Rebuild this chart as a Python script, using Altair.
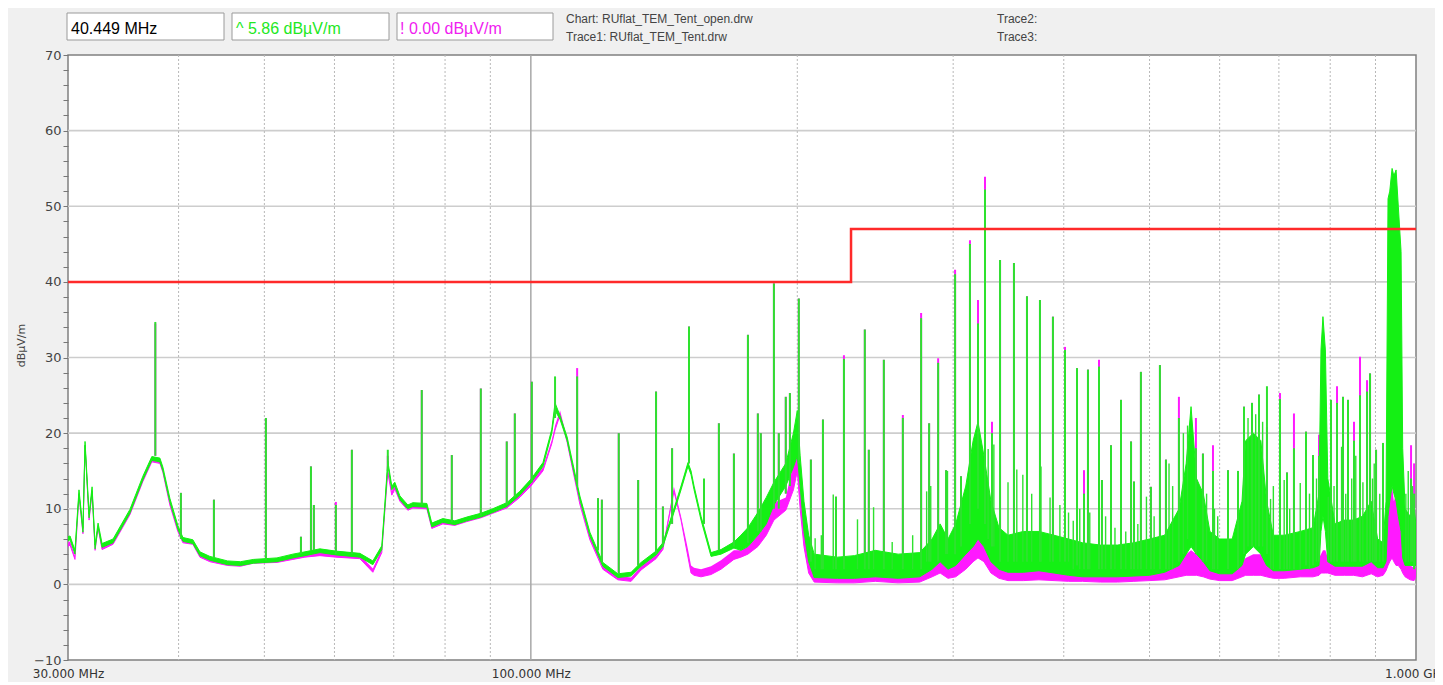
import altair as alt
import pandas as pd

# ---------------- trace envelopes (MHz, dBuV/m) ----------------
FREQ = [30.0, 30.16, 30.55, 30.87, 31.19, 31.36, 31.69, 31.94, 32.19, 32.44, 32.78, 33.73,
        35.24, 36.45, 37.31, 38.10, 38.40, 39.10, 39.92, 40.45, 41.51, 42.28, 43.39, 45.43,
        46.99, 48.61, 51.66, 53.85, 55.56, 57.77, 60.22, 64.10, 66.30, 67.86, 68.39, 68.93,
        69.65, 70.2, 71.13, 72.62, 73.57, 76.30, 77.29, 79.53, 82.06, 84.65, 87.80, 90.57,
        93.93, 97.16, 100.0, 103.2, 105.6, 106.5, 107.9, 109.9, 113.6, 116.6, 120.6, 125.4,
        129.8, 133.2, 138.5, 141.0, 145.1, 147.8, 150.5, 151.7, 152.9, 155.7, 159.8, 164.0,
        169.6, 172.7, 175.9, 180.5, 184.5, 188.2, 194.1, 198.0, 200.0, 201.5, 203.5, 206.0,
        209.0, 222.0, 232.0, 245.0, 260.0, 275.0, 284.0, 290.0, 296.0, 302.0, 310.0, 316.0,
        320.0, 325.0, 331.0, 338.0, 346.0, 360.0, 375.0, 390.0, 405.0, 420.0, 440.0, 460.0,
        480.0, 500.0, 520.0, 540.0, 550.0, 557.0, 565.0, 575.0, 585.0, 600.0, 620.0, 636.0,
        642.0, 655.0, 668.0, 678.0, 690.0, 710.0, 740.0, 765.0, 777.0, 781.0, 785.0, 790.0,
        795.0, 810.0, 830.0, 850.0, 870.0, 890.0, 905.0, 918.0, 925.0, 929.8, 934.0, 939.7,
        944.0, 949.5, 955.0, 961.9, 966.0, 972.0, 985.0, 995.0, 1000.0]
G_LO = [5.8, 5.9, 4.0, 12.0, 6.9, 18.4, 8.8, 12.4, 4.7, 7.6, 4.9, 5.5,
        9.4, 13.8, 16.4, 16.2, 15.0, 10.9, 7.3, 5.7, 5.4, 3.8, 3.2, 2.6,
        2.5, 2.8, 3.0, 3.5, 3.8, 4.2, 3.9, 3.6, 2.6, 4.6, 10.0, 15.8,
        12.5, 13.0, 11.2, 10.0, 10.3, 10.2, 7.6, 8.2, 7.9, 8.4, 8.9, 9.5,
        10.3, 11.8, 13.4, 15.6, 20.0, 23.0, 21.8, 19.0, 11.2, 6.4, 2.4, 0.9,
        1.1, 2.4, 3.9, 5.0, 9.5, 12.5, 15.6, 14.5, 12.5, 8.5, 3.7, 4.0,
        4.8, 4.5, 5.0, 6.5, 8.0, 10.5, 13.0, 15.5, 17.0, 13.0, 7.0, 3.0,
        0.9, 0.8, 0.8, 1.0, 0.8, 1.0, 2.0, 3.0, 2.0, 2.5, 4.0, 5.0,
        6.0, 5.0, 3.0, 2.0, 1.6, 1.6, 1.8, 1.5, 1.2, 1.0, 1.0, 1.0,
        1.1, 1.2, 1.6, 2.5, 4.0, 5.0, 4.0, 3.0, 1.8, 1.4, 1.4, 2.5,
        4.0, 5.0, 4.0, 2.5, 1.8, 1.8, 2.0, 2.2, 2.5, 7.0, 9.0, 7.0,
        3.0, 2.4, 2.4, 2.4, 2.4, 3.0, 2.2, 2.2, 3.0, 9.0, 11.0, 13.0,
        12.0, 11.0, 9.0, 7.0, 3.5, 2.5, 2.5, 2.5, 2.5]
G_HI = [6.3, 6.4, 4.5, 12.5, 7.4, 18.9, 9.3, 12.9, 5.2, 8.1, 5.4, 6.0,
        9.9, 14.3, 16.9, 16.7, 15.5, 11.4, 7.8, 6.2, 5.9, 4.3, 3.7, 3.1,
        3.0, 3.3, 3.5, 4.0, 4.3, 4.7, 4.4, 4.1, 3.1, 5.1, 10.5, 16.3,
        13.0, 13.5, 11.7, 10.5, 10.8, 10.7, 8.1, 8.7, 8.4, 8.9, 9.4, 10.0,
        10.8, 12.3, 13.9, 16.1, 20.5, 24.0, 22.3, 19.5, 11.7, 6.9, 2.9, 1.4,
        1.6, 2.9, 4.4, 5.5, 10.0, 13.0, 16.1, 15.0, 13.0, 9.0, 4.2, 4.6,
        5.6, 6.5, 7.5, 9.5, 11.5, 13.5, 16.0, 20.0, 23.0, 17.0, 11.0, 6.5,
        4.0, 3.6, 3.8, 4.5, 4.0, 4.2, 6.0, 8.0, 6.0, 8.0, 13.0, 19.0,
        21.5, 17.0, 11.0, 7.5, 6.5, 7.0, 7.0, 6.5, 6.0, 5.5, 5.2, 5.2,
        5.5, 6.0, 6.5, 10.0, 16.0, 23.5, 14.0, 12.0, 7.0, 6.0, 6.0, 11.0,
        19.0, 20.0, 19.0, 11.0, 6.5, 6.5, 7.0, 7.5, 12.0, 31.0, 35.4, 31.0,
        14.0, 8.0, 8.5, 8.5, 9.0, 11.0, 6.0, 5.5, 11.0, 51.0, 52.0, 55.0,
        54.0, 54.8, 50.0, 44.0, 18.0, 10.0, 9.0, 10.0, 8.0]
M_LO = [5.0, 5.2, 3.3, 11.8, 6.7, 18.4, 8.5, 12.2, 4.5, 7.5, 4.6, 5.3,
        9.2, 13.6, 16.2, 16.0, 14.8, 10.5, 7.0, 5.5, 5.3, 3.6, 3.0, 2.5,
        2.4, 2.8, 2.9, 3.3, 3.6, 3.8, 3.6, 3.4, 1.6, 4.2, 9.6, 14.8,
        11.8, 12.6, 11.0, 9.8, 10.1, 10.0, 7.4, 8.0, 7.8, 8.3, 8.8, 9.4,
        10.1, 11.5, 13.0, 15.0, 18.6, 20.4, 22.4, 18.8, 10.6, 5.9, 2.0, 0.6,
        0.4, 1.9, 3.4, 4.6, 12.3, 8.5, 3.6, 1.5, 1.2, 1.0, 1.3, 2.0,
        3.3, 3.6, 4.0, 5.0, 6.5, 8.5, 9.8, 12.5, 15.0, 10.0, 5.0, 1.5,
        0.3, 0.2, 0.2, 0.4, 0.2, 0.3, 1.0, 1.5, 0.8, 1.0, 2.0, 3.0,
        3.5, 3.0, 1.5, 0.8, 0.5, 0.5, 0.6, 0.5, 0.4, 0.4, 0.3, 0.3,
        0.4, 0.5, 0.6, 1.0, 1.2, 1.2, 1.2, 1.0, 0.7, 0.5, 0.5, 1.0,
        1.2, 1.2, 1.2, 1.0, 0.8, 0.8, 1.0, 1.0, 1.2, 1.5, 1.5, 1.5,
        1.5, 1.2, 1.2, 1.2, 1.0, 1.4, 1.0, 1.2, 1.8, 2.5, 3.0, 3.5,
        3.0, 2.5, 2.5, 2.0, 1.5, 1.0, 0.6, 0.5, 1.0]
M_HI = [5.5, 5.7, 3.8, 12.3, 7.2, 18.9, 9.0, 12.7, 5.0, 8.0, 5.1, 5.8,
        9.7, 14.1, 16.7, 16.5, 15.3, 11.0, 7.5, 6.0, 5.8, 4.1, 3.5, 3.0,
        2.9, 3.3, 3.4, 3.8, 4.1, 4.3, 4.1, 3.9, 2.1, 4.7, 10.1, 15.3,
        12.3, 13.1, 11.5, 10.3, 10.6, 10.5, 7.9, 8.5, 8.3, 8.8, 9.3, 9.9,
        10.6, 12.0, 13.5, 15.5, 19.1, 21.0, 23.0, 19.3, 11.1, 6.4, 2.5, 1.1,
        0.9, 2.4, 3.9, 5.1, 12.9, 9.0, 4.6, 2.5, 2.2, 2.0, 2.4, 3.2,
        4.5, 4.5, 5.0, 6.5, 8.5, 10.8, 11.5, 16.0, 19.0, 14.0, 8.0, 4.0,
        1.5, 1.2, 1.2, 2.0, 1.2, 1.4, 3.0, 4.5, 2.5, 3.0, 5.0, 6.5,
        7.0, 6.0, 4.0, 2.5, 2.0, 2.2, 2.5, 2.0, 1.6, 1.5, 1.4, 1.4,
        1.6, 1.8, 2.5, 3.5, 4.0, 4.5, 4.0, 3.0, 2.2, 1.8, 1.8, 3.0,
        3.5, 4.0, 4.0, 3.0, 2.2, 2.2, 2.4, 2.6, 3.5, 4.0, 4.5, 4.5,
        3.5, 3.0, 3.0, 3.0, 3.0, 3.5, 2.8, 3.0, 5.0, 11.0, 12.0, 13.0,
        11.0, 12.0, 10.0, 8.0, 4.0, 3.0, 2.5, 2.2, 2.2]

# ---------------- narrowband emissions ----------------
SPK_F = [37.65, 40.24, 43.85, 50.20, 54.99, 56.44, 56.87, 60.22, 62.78, 68.93, 75.30, 81.42,
         87.80, 93.93, 95.92, 100.26, 106.5, 112.8, 119.1, 120.3, 125.7, 132.2, 138.5, 141.0,
         144.4, 150.9, 156.9, 163.1, 169.6, 175.9, 180.5, 181.9, 188.2, 190.6, 194.1, 196.2,
         200.8, 207.2, 213.8, 221.2, 225.8, 238.4, 240.9, 250.5, 263.2, 276.0, 281.8, 288.5,
         294.5, 301.5, 306.2, 313.4, 320.0, 325.9, 331.9, 338.9, 351.4, 363.5, 376.0, 388.9,
         401.3, 414.0, 421.6, 426.0, 438.4, 441.8, 452.3, 464.2, 476.5, 480.2, 488.9, 501.8,
         513.7, 521.8, 539.7, 564.1, 574.5, 589.7, 613.2, 629.4, 639.3, 652.7, 664.7, 678.6,
         702.0, 714.9, 728.0, 751.2, 765.0, 777.1, 801.6, 814.3, 827.1, 837.9, 851.1, 864.5,
         880.4, 887.3, 901.3, 917.8, 987.2, 995.0]
SPK_BASE = [17.0, 6.0, 3.5, 3.2, 4.0, 4.5, 4.5, 4.0, 4.0, 15.0, 10.5, 8.2,
            9.0, 10.5, 11.5, 13.5, 22.0, 13.0, 4.5, 3.0, 1.5, 2.5, 4.0, 5.0,
            8.0, 16.0, 8.0, 4.5, 5.0, 5.5, 7.0, 7.0, 10.0, 10.0, 12.0, 13.0,
            16.0, 3.0, 2.0, 2.0, 2.0, 2.0, 2.0, 2.0, 2.0, 2.0, 3.0, 3.0,
            4.0, 4.0, 5.0, 8.0, 10.0, 8.0, 5.0, 3.0, 3.0, 3.0, 3.0, 3.0,
            3.0, 2.5, 2.0, 2.0, 2.0, 2.0, 2.0, 2.0, 2.0, 2.0, 2.0, 2.0,
            2.0, 2.0, 3.0, 4.0, 3.0, 2.0, 2.0, 2.0, 4.0, 5.0, 5.0, 4.0,
            2.0, 2.0, 2.0, 2.5, 2.5, 3.0, 3.0, 3.0, 3.0, 3.0, 3.0, 3.0,
            3.0, 3.0, 3.0, 3.0, 3.0, 2.0]
SPK_G = [34.7, 12.1, 11.2, 22.0, 6.3, 15.6, 10.5, 10.5, 17.8, 17.8, 25.7, 17.1,
         25.9, 18.9, 22.6, 26.8, 27.5, 27.5, 11.4, 11.2, 20.0, 13.8, 25.5, 10.3,
         18.0, 34.1, 14.0, 21.3, 17.3, 33.0, 22.6, 20.0, 39.8, 20.0, 24.8, 25.3,
         37.8, 16.5, 21.8, 11.6, 29.8, 33.7, 17.8, 29.7, 22.0, 35.2, 21.3, 29.3,
         15.1, 41.0, 14.3, 45.0, 34.5, 52.2, 20.0, 42.9, 42.5, 38.1, 37.6, 35.4,
         31.0, 28.6, 12.0, 28.4, 28.8, 13.8, 18.4, 24.4, 18.9, 13.6, 28.1, 12.9,
         29.0, 16.5, 22.0, 18.0, 17.3, 15.0, 15.1, 15.0, 23.5, 24.0, 25.1, 26.2,
         24.5, 14.8, 18.0, 20.2, 17.1, 17.0, 24.4, 24.0, 24.8, 24.4, 19.0, 25.0,
         25.5, 27.9, 17.8, 18.7, 14.0, 12.0]
SPK_M = [34.5, 12.1, 11.2, 22.0, 6.3, 15.6, 10.5, 10.9, 17.8, 17.0, 25.7, 17.1,
         25.9, 18.9, 22.6, 26.8, 23.0, 28.6, 11.4, 11.2, 20.0, 13.8, 25.5, 10.3,
         18.0, 34.1, 10.0, 21.3, 17.3, 33.0, 22.6, 20.0, 39.8, 20.0, 24.8, 25.3,
         37.8, 16.5, 21.8, 11.6, 30.3, 33.7, 17.8, 29.7, 22.4, 35.9, 21.3, 29.9,
         15.1, 41.6, 14.3, 45.5, 37.6, 53.9, 21.5, 42.9, 42.5, 38.1, 37.6, 35.4,
         31.4, 28.6, 15.1, 28.4, 29.7, 13.8, 18.4, 24.4, 18.9, 13.6, 28.1, 12.9,
         29.0, 16.5, 24.8, 22.0, 17.3, 18.4, 15.1, 15.0, 23.5, 24.0, 25.1, 20.8,
         25.3, 14.8, 22.6, 20.2, 17.1, 19.8, 24.4, 26.2, 24.8, 24.4, 21.5, 30.1,
         27.0, 27.9, 17.8, 18.7, 18.4, 16.0]

# small broadband "grass" on the open-tent trace
GRASS_F = [209.5, 212.9, 219.6, 233.9, 243.9, 256.0, 270.0, 280.0, 283.0, 295.6, 328.6, 333.5,
           346.0, 354.0, 359.6, 368.0, 377.0, 386.0, 396.0, 405.0, 410.0, 417.0, 428.0, 446.0,
           457.0, 470.0, 485.0, 496.0, 506.0, 526.0, 531.0, 546.0, 552.0, 580.0, 592.0, 597.0,
           646.0, 659.0, 671.0, 685.0, 690.0, 709.7, 720.0, 740.0, 758.0, 772.0, 796.0, 808.0,
           824.0, 833.0, 846.0, 855.0, 871.0, 893.0, 897.0, 910.0, 974.0, 980.0, 991.0]
GRASS_BASE = [2.0, 2.0, 2.0, 2.0, 2.0, 2.0, 2.0, 3.0, 3.0, 4.0, 6.0, 5.0,
              3.0, 3.0, 3.0, 3.0, 3.0, 3.0, 3.0, 3.0, 2.0, 2.0, 2.0, 2.0,
              2.0, 2.0, 2.0, 2.0, 2.0, 2.0, 2.0, 4.0, 6.0, 3.0, 2.0, 2.0,
              5.0, 5.0, 5.0, 2.0, 2.0, 2.0, 2.0, 2.0, 2.0, 3.0, 3.0, 3.0,
              3.0, 3.0, 3.0, 3.0, 3.0, 3.0, 3.0, 3.0, 3.0, 3.0, 3.0]
GRASS_G = [6.1, 6.5, 11.9, 8.6, 10.2, 5.6, 6.5, 12.3, 13.0, 15.0, 17.9, 18.5,
           13.5, 15.2, 14.5, 12.0, 15.6, 11.5, 10.5, 9.5, 8.4, 10.0, 9.5, 9.0,
           7.5, 7.0, 8.0, 11.6, 9.0, 16.0, 13.0, 20.0, 21.0, 12.0, 10.0, 9.0,
           22.0, 22.5, 21.5, 11.3, 13.0, 13.8, 10.0, 13.4, 12.0, 14.0, 11.6, 13.0,
           18.2, 12.0, 14.0, 17.0, 13.5, 14.0, 16.0, 12.0, 12.0, 15.0, 13.0]

# limit line
LIMIT_F = [30, 230, 230, 1000]
LIMIT_L = [40, 40, 47, 47]

# axes / grid
X_TICKS = [30, 100, 1000]
X_LABELS = ["30.000 MHz", "100.000 MHz", "1.000 GHz"]
Y_TICKS = [-10, -8, -6, -4, -2, 0, 2, 4, 6, 8, 10, 12, 14, 16, 18, 20, 22, 24, 26, 28, 30,
           32, 34, 36, 38, 40, 42, 44, 46, 48, 50, 52, 54, 56, 58, 60, 62, 64, 66, 68, 70]
Y_GRID = [0, 10, 20, 30, 40, 50, 60]
X_GRID_MINOR = [40, 50, 60, 70, 80, 90, 200, 300, 400, 500, 600, 700, 800, 900]
X_GRID_MAJOR = [100]

# header
HDR_FREQ = "40.449 MHz"
HDR_TR2 = "^ 5.86 dBµV/m"
HDR_TR1 = "! 0.00 dBµV/m"
HDR_CHART = "Chart: RUflat_TEM_Tent_open.drw"
HDR_TRACE1 = "Trace1: RUflat_TEM_Tent.drw"
HDR_TRACE2 = "Trace2:"
HDR_TRACE3 = "Trace3:"

GREEN = "#14f014"
GREEN_SPK = "#2ee22e"
MAGENTA = "#ff19ff"
RED = "#ff2a2a"

floor = pd.DataFrame({"f": FREQ, "g_lo": G_LO, "g_hi": G_HI, "m_lo": M_LO, "m_hi": M_HI})
spk = pd.DataFrame({"f": SPK_F, "base": SPK_BASE, "g": SPK_G, "m": SPK_M})
grass = pd.DataFrame({"f": GRASS_F, "base": GRASS_BASE, "g": GRASS_G})
limit = pd.DataFrame({"f": LIMIT_F, "lvl": LIMIT_L, "i": list(range(len(LIMIT_F)))})

x_expr = " : ".join(
    f"datum.value == {v} ? '{t}'" for v, t in zip(X_TICKS[:-1], X_LABELS[:-1])
) + f" : '{X_LABELS[-1]}'"

x_scale = alt.Scale(type="log", domain=[30, 1000], nice=False)
y_scale = alt.Scale(domain=[-10, 70], nice=False, zero=False)

x_axis = alt.Axis(values=X_TICKS, labelExpr=x_expr, grid=False, ticks=False, domain=False,
                  labelFlush=False, labelOverlap=False, labelBound=False, labelPadding=8,
                  labelBaseline="top", labelFont="DejaVu Sans", labelFontSize=12,
                  labelColor="#333333", title=None)
y_axis = alt.Axis(values=Y_TICKS, labelExpr="datum.value % 10 == 0 ? datum.label : ''",
                  grid=False, tickSize=5, tickColor="#777777", domain=False, labelPadding=2,
                  labelOverlap=False, labelFont="DejaVu Sans", labelFontSize=13,
                  labelColor="#444444", title="dBµV/m", titleFont="DejaVu Sans",
                  titleFontSize=11, titleFontWeight="normal", titleColor="#444444",
                  titleX=-42, titleY=290, titleAngle=-90)


def X(field="f"):
    return alt.X(f"{field}:Q", scale=x_scale, axis=x_axis)


def Y(field):
    return alt.Y(f"{field}:Q", scale=y_scale, axis=y_axis)


grid_h = alt.Chart(pd.DataFrame({"y": Y_GRID})).mark_rule(
    color="#cdcdcd", strokeWidth=1.6).encode(y=Y("y"))
grid_vm = alt.Chart(pd.DataFrame({"f": X_GRID_MINOR})).mark_rule(
    color="#b8b8b8", strokeWidth=1, strokeDash=[2, 2]).encode(x=X())
grid_vM = alt.Chart(pd.DataFrame({"f": X_GRID_MAJOR})).mark_rule(
    color="#a8a8a8", strokeWidth=1.5).encode(x=X())

m_band = alt.Chart(floor).mark_area(color=MAGENTA, clip=True).encode(x=X(), y=Y("m_lo"), y2="m_hi")
m_edge_lo = alt.Chart(floor).mark_line(color=MAGENTA, strokeWidth=1, clip=True).encode(x=X(), y=Y("m_lo"))
m_spk = alt.Chart(spk).mark_rule(color=MAGENTA, strokeWidth=2, clip=True).encode(
    x=X(), y=Y("base"), y2="m")

g_band = alt.Chart(floor).mark_area(color=GREEN, clip=True).encode(x=X(), y=Y("g_lo"), y2="g_hi")
g_edge_lo = alt.Chart(floor).mark_line(color=GREEN, strokeWidth=1, clip=True).encode(x=X(), y=Y("g_lo"))
g_edge_hi = alt.Chart(floor).mark_line(color=GREEN, strokeWidth=1, clip=True).encode(x=X(), y=Y("g_hi"))
g_spk = alt.Chart(spk).mark_rule(color=GREEN_SPK, strokeWidth=2, clip=True).encode(
    x=X(), y=Y("base"), y2="g")
g_grass = alt.Chart(grass).mark_rule(color=GREEN_SPK, strokeWidth=1.4, clip=True).encode(
    x=X(), y=Y("base"), y2="g")

lim = alt.Chart(limit).mark_line(color=RED, strokeWidth=2.5, clip=True).encode(
    x=X(), y=Y("lvl"), order="i:Q")


def box(x0, x1):
    return alt.Chart(pd.DataFrame({"a": [0]})).mark_rect(
        fill="white", stroke="#9a9a9a", strokeWidth=1).encode(
        x=alt.value(x0), x2=alt.value(x1), y=alt.value(-42), y2=alt.value(-15))


def label(txt, x, y, color, size, font):
    return alt.Chart(pd.DataFrame({"t": [txt]})).mark_text(
        align="left", baseline="alphabetic", color=color, fontSize=size, font=font).encode(
        text="t:N", x=alt.value(x), y=alt.value(y))


header = [
    box(-1, 156), box(164, 321), box(329, 485),
    label(HDR_FREQ, 3, -21, "#000000", 16, "Liberation Sans"),
    label(HDR_TR2, 168, -21, "#22e822", 16, "Liberation Sans"),
    label(HDR_TR1, 332, -21, "#f020f0", 16, "Liberation Sans"),
    label(HDR_CHART, 498, -32, "#444444", 12, "Liberation Sans"),
    label(HDR_TRACE1, 498, -14, "#444444", 12, "Liberation Sans"),
    label(HDR_TRACE2, 929, -32, "#444444", 12, "Liberation Sans"),
    label(HDR_TRACE3, 929, -14, "#444444", 12, "Liberation Sans"),
]

chart = alt.layer(
    grid_h, grid_vm, grid_vM,
    m_band, m_edge_lo, m_spk,
    g_band, g_edge_lo, g_edge_hi, g_spk, g_grass,
    lim, *header
).properties(
    width=1348, height=605,
    padding={"left": 60, "top": 47, "right": 19, "bottom": 22},
    autosize=alt.AutoSizeParams(type="none"),
    background="#f0f0f0",
).configure_view(fill="white", stroke="#808080", strokeWidth=1.5)

chart.save("out.html", embed_options={"renderer": "svg", "actions": False})
